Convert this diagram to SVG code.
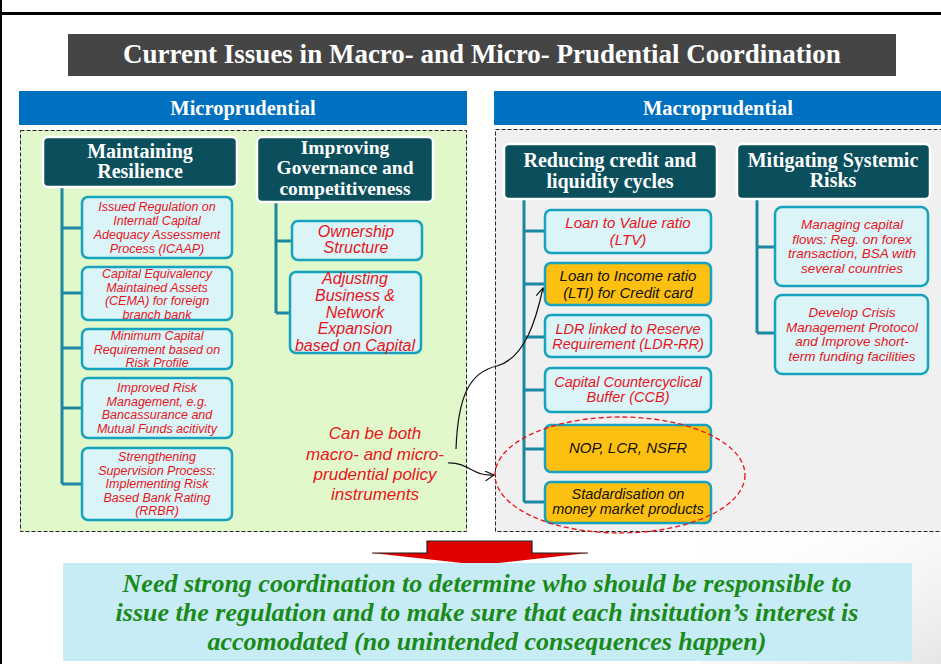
<svg xmlns="http://www.w3.org/2000/svg" width="941" height="664" viewBox="0 0 941 664">
<defs>
<style>
.hdr{fill:#0B4F5C;stroke:#ffffff;stroke-width:2.5}
.htx{font-family:"Liberation Serif",serif;font-weight:bold;fill:#ffffff;text-anchor:middle}
.box{fill:#DAF4F8;stroke:#17A2BE;stroke-width:2.5}
.obox{fill:#FDC010;stroke:#17A2BE;stroke-width:2.5}
.rt{font-family:"Liberation Sans",Arial,sans-serif;font-style:italic;fill:#E8141C;text-anchor:middle}
.bt{font-family:"Liberation Sans",Arial,sans-serif;font-style:italic;fill:#111111;text-anchor:middle}
.con{stroke:#1B87A1;stroke-width:3;fill:none}
.panel{stroke:#222;stroke-width:1;stroke-dasharray:4 2}
</style>
<marker id="ah" viewBox="0 0 10 10" refX="9" refY="5" markerWidth="10" markerHeight="10" markerUnits="userSpaceOnUse" orient="auto">
<path d="M0,0 L9,5 L0,10" fill="none" stroke="#111" stroke-width="1.2"/>
</marker>
<linearGradient id="bg" x1="0" y1="0" x2="1" y2="1">
<stop offset="0" stop-color="#ffffff" stop-opacity="0"/>
<stop offset="1" stop-color="#e6e6e6" stop-opacity="1"/>
</linearGradient>
</defs>
<rect x="0" y="0" width="941" height="664" fill="#ffffff"/>
<rect x="700" y="532" width="241" height="132" fill="url(#bg)"/>
<!-- frame -->
<rect x="0" y="12" width="941" height="3" fill="#000"/>
<rect x="0" y="0" width="2" height="664" fill="#000"/>
<!-- title -->
<g id="title">
<rect x="68" y="34" width="828" height="42" fill="#454545"/>
<text x="482" y="63" class="htx" font-size="27">Current Issues in Macro- and Micro- Prudential Coordination</text>
</g>
<!-- section headers -->
<g id="micro-header">
<rect x="19" y="91" width="448" height="34" fill="#0070C0"/>
<text x="243" y="115" class="htx" font-size="20.5">Microprudential</text>
</g>
<g id="macro-header">
<rect x="494" y="91" width="447" height="34" fill="#0070C0"/>
<text x="718" y="115" class="htx" font-size="20.5">Macroprudential</text>
</g>
<!-- panels -->
<rect x="20.5" y="130.5" width="446" height="401" fill="#E1F8CB" class="panel"/>
<rect x="495.5" y="129.5" width="450" height="402" fill="#F0F0F0" class="panel"/>
<!-- connectors -->
<g id="connectors">
<path class="con" d="M62,188 V484 M62,228 H82 M62,293 H82 M62,348 H82 M62,408 H82 M62,484 H82"/>
<path class="con" d="M276,202 V313 M276,241 H292 M276,313 H290"/>
<path class="con" d="M524,199 V502 M524,231 H545 M524,284 H545 M524,337 H545 M524,390 H545 M524,449 H545 M524,502 H545"/>
<path class="con" d="M757,199 V333 M757,247 H775 M757,333 H775"/>
<path d="M456,449 C458,395 470,372 497,366 C525,358 536,320 543,288" fill="none" stroke="#111" stroke-width="1.2" marker-end="url(#ah)"/>
<path d="M448,463 C468,462 474,477 494,475" fill="none" stroke="#111" stroke-width="1.2" marker-end="url(#ah)"/>
</g>
<!-- Micro nodes -->
<g id="maintaining">
<rect x="43" y="137" width="194" height="50" rx="5" class="hdr"/>
<text class="htx" font-size="20"><tspan x="140" y="158">Maintaining</tspan><tspan x="140" y="178">Resilience</tspan></text>
</g>
<g id="icaap">
<rect x="82" y="197" width="150" height="61" rx="6" class="box"/>
<text class="rt" font-size="12.5"><tspan x="157" y="211">Issued Regulation on</tspan><tspan x="157" y="225">Internatl Capital</tspan><tspan x="157" y="239">Adequacy Assessment</tspan><tspan x="157" y="253">Process (ICAAP)</tspan></text>
</g>
<g id="cema">
<rect x="82" y="267" width="150" height="53" rx="6" class="box"/>
<text class="rt" font-size="12.5"><tspan x="157" y="278">Capital Equivalency</tspan><tspan x="157" y="291.5">Maintained Assets</tspan><tspan x="157" y="305">(CEMA) for foreign</tspan><tspan x="157" y="318.5">branch bank</tspan></text>
</g>
<g id="mincap">
<rect x="82" y="329" width="150" height="40" rx="6" class="box"/>
<text class="rt" font-size="12.5"><tspan x="157" y="340">Minimum Capital</tspan><tspan x="157" y="353.5">Requirement based on</tspan><tspan x="157" y="367">Risk Profile</tspan></text>
</g>
<g id="risk">
<rect x="82" y="378" width="150" height="60" rx="6" class="box"/>
<text class="rt" font-size="12.5"><tspan x="157" y="392">Improved Risk</tspan><tspan x="157" y="405.5">Management, e.g.</tspan><tspan x="157" y="419">Bancassurance and</tspan><tspan x="157" y="432.5">Mutual Funds acitivity</tspan></text>
</g>
<g id="rrbr">
<rect x="82" y="448" width="150" height="72" rx="6" class="box"/>
<text class="rt" font-size="12.5"><tspan x="157" y="461">Strengthening</tspan><tspan x="157" y="474.5">Supervision Process:</tspan><tspan x="157" y="488">Implementing Risk</tspan><tspan x="157" y="501.5">Based Bank Rating</tspan><tspan x="157" y="515">(RRBR)</tspan></text>
</g>
<g id="governance">
<rect x="257" y="137" width="176" height="65" rx="5" class="hdr"/>
<text class="htx" font-size="19.5"><tspan x="345" y="154">Improving</tspan><tspan x="345" y="174">Governance and</tspan><tspan x="345" y="195">competitiveness</tspan></text>
</g>
<g id="ownership">
<rect x="292" y="221" width="130" height="39" rx="6" class="box"/>
<text class="rt" font-size="16"><tspan x="356" y="237">Ownership</tspan><tspan x="356" y="253">Structure</tspan></text>
</g>
<g id="adjusting">
<rect x="290" y="272" width="131" height="81" rx="6" class="box"/>
<text class="rt" font-size="16"><tspan x="355" y="284">Adjusting</tspan><tspan x="355" y="301">Business &amp;</tspan><tspan x="355" y="318">Network</tspan><tspan x="355" y="334">Expansion</tspan><tspan x="355" y="351">based on Capital</tspan></text>
</g>
<g id="note">
<text class="rt" font-size="17"><tspan x="375" y="439">Can be both</tspan><tspan x="375" y="460">macro- and micro-</tspan><tspan x="375" y="480">prudential policy</tspan><tspan x="375" y="500">instruments</tspan></text>
</g>
<!-- Macro nodes -->
<g id="reducing">
<rect x="504" y="144" width="213" height="55" rx="5" class="hdr"/>
<text class="htx" font-size="20"><tspan x="610" y="167">Reducing credit and</tspan><tspan x="610" y="188">liquidity cycles</tspan></text>
</g>
<g id="ltv">
<rect x="545" y="210" width="166" height="43" rx="6" class="box"/>
<text class="rt" font-size="15"><tspan x="628" y="228">Loan to Value ratio</tspan><tspan x="628" y="245">(LTV)</tspan></text>
</g>
<g id="lti">
<rect x="545" y="263" width="166" height="42" rx="6" class="obox"/>
<text class="bt" font-size="15"><tspan x="628" y="281">Loan to Income ratio</tspan><tspan x="628" y="298">(LTI) for Credit card</tspan></text>
</g>
<g id="ldr">
<rect x="545" y="315" width="166" height="42" rx="6" class="box"/>
<text class="rt" font-size="14.5"><tspan x="628" y="334">LDR linked to Reserve</tspan><tspan x="628" y="349">Requirement (LDR-RR)</tspan></text>
</g>
<g id="ccb">
<rect x="545" y="368" width="166" height="44" rx="6" class="box"/>
<text class="rt" font-size="14.5"><tspan x="628" y="387">Capital Countercyclical</tspan><tspan x="628" y="402">Buffer (CCB)</tspan></text>
</g>
<g id="nop">
<rect x="545" y="425" width="166" height="47" rx="6" class="obox"/>
<text class="bt" font-size="15" x="628" y="453">NOP, LCR, NSFR</text>
</g>
<g id="stad">
<rect x="545" y="482" width="166" height="41" rx="6" class="obox"/>
<text class="bt" font-size="14.5"><tspan x="628" y="499">Stadardisation on</tspan><tspan x="628" y="514">money market products</tspan></text>
</g>
<ellipse cx="620" cy="475" rx="125" ry="58" fill="none" stroke="#E8141C" stroke-width="1.3" stroke-dasharray="5 3"/>
<g id="mitigating">
<rect x="737" y="144" width="193" height="55" rx="5" class="hdr"/>
<text class="htx" font-size="20"><tspan x="833" y="167">Mitigating Systemic</tspan><tspan x="833" y="187">Risks</tspan></text>
</g>
<g id="capflows">
<rect x="775" y="207" width="153" height="79" rx="7" class="box"/>
<text class="rt" font-size="13.5"><tspan x="852" y="229">Managing capital</tspan><tspan x="852" y="243.5">flows: Reg. on forex</tspan><tspan x="852" y="258">transaction, BSA with</tspan><tspan x="852" y="272.5">several countries</tspan></text>
</g>
<g id="crisis">
<rect x="775" y="295" width="153" height="79" rx="7" class="box"/>
<text class="rt" font-size="13.5"><tspan x="852" y="317">Develop Crisis</tspan><tspan x="852" y="331.5">Management Protocol</tspan><tspan x="852" y="346">and Improve short-</tspan><tspan x="852" y="360.5">term funding facilities</tspan></text>
</g>
<!-- bottom -->
<g id="down-arrow">
<path d="M427,553 V541 H532 V553 H588 L480,565 L372,553 Z" fill="#E00000"/>
<path d="M372,553 H427 V541 H532 V553 H588" fill="none" stroke="#222" stroke-width="1.2"/>
</g>
<g id="conclusion">
<rect x="63" y="563" width="849" height="98" fill="#C7ECF5"/>
<text font-family="Liberation Serif, serif" font-weight="bold" font-style="italic" fill="#1A8A1A" text-anchor="middle" font-size="26"><tspan x="487" y="592">Need strong coordination to determine who should be responsible to</tspan><tspan x="487" y="621">issue the regulation and to make sure that each insitution’s interest is</tspan><tspan x="487" y="650">accomodated (no unintended consequences happen)</tspan></text>
</g>
</svg>
